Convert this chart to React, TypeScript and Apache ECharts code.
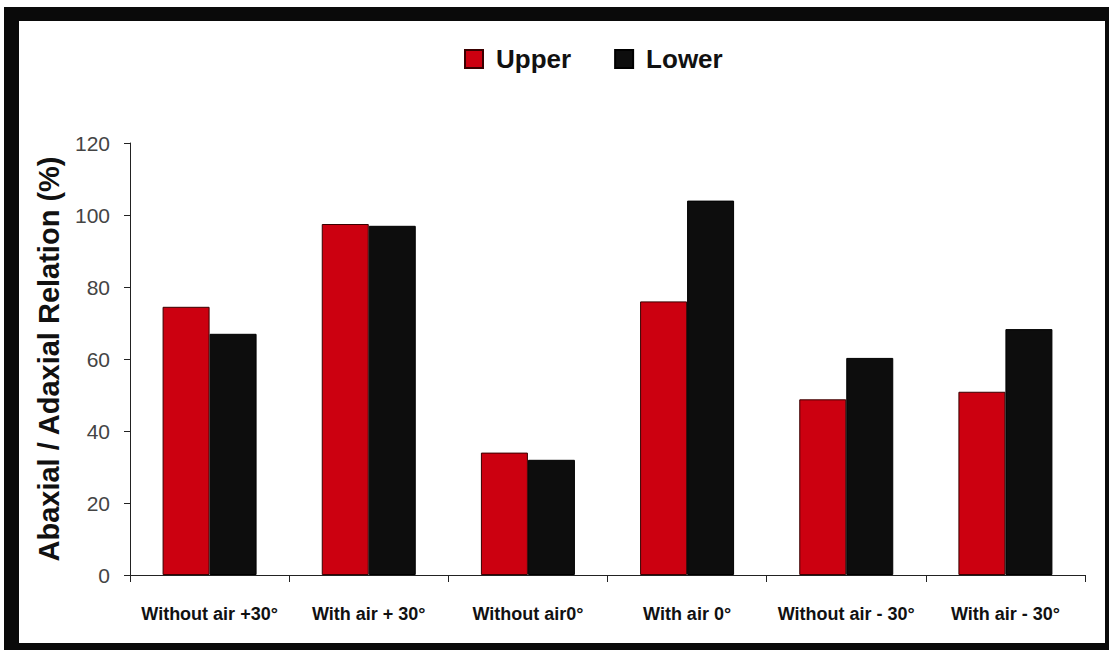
import React, { useEffect, useRef } from "react";
import * as echarts from "echarts";

const categories = [
  "Without air +30°",
  "With air + 30°",
  "Without air0°",
  "With air 0°",
  "Without air - 30°",
  "With air - 30°",
];
const upperValues = [74.5, 97.5, 34, 76, 48.8, 50.9];
const lowerValues = [67, 97, 32, 104, 60.3, 68.3];
const yTicks = { min: 0, max: 120, interval: 20 };

export default function App() {
  const ref = useRef<HTMLDivElement>(null);
  useEffect(() => {
    if (!ref.current) return;
    const chart = echarts.init(ref.current, undefined, { renderer: "svg" });
    chart.setOption({
      animation: false,
      backgroundColor: "#ffffff",
      graphic: [
        {
          type: "rect",
          silent: true,
          z: -10,
          shape: { x: 4, y: 7, width: 1105, height: 643 },
          style: { fill: "#0a0a0a" },
        },
        {
          type: "rect",
          silent: true,
          z: -9,
          shape: { x: 19, y: 21, width: 1086, height: 622 },
          style: { fill: "#ffffff" },
        },
      ],
      legend: {
        left: 464,
        top: 46,
        padding: 0,
        itemWidth: 18,
        itemHeight: 18,
        itemGap: 43,
        icon: "rect",
        textStyle: {
          fontFamily: "Liberation Sans, Arial, sans-serif",
          fontWeight: "bold",
          fontSize: 26,
          color: "#111",
          padding: [0, 0, 0, 8],
        },
        data: ["Upper", "Lower"],
      },
      grid: { left: 130, right: 24, top: 143, bottom: 75 },
      xAxis: {
        type: "category",
        data: categories,
        axisLine: { lineStyle: { color: "#222", width: 1 } },
        axisTick: { show: true, length: 7, lineStyle: { color: "#222" } },
        axisLabel: {
          interval: 0,
          margin: 30,
          fontFamily: "Liberation Sans, Arial, sans-serif",
          fontWeight: "bold",
          fontSize: 18,
          color: "#111",
        },
      },
      yAxis: {
        type: "value",
        min: yTicks.min,
        max: yTicks.max,
        interval: yTicks.interval,
        name: "Abaxial / Adaxial Relation (%)",
        nameLocation: "middle",
        nameGap: 67,
        nameTextStyle: {
          fontFamily: "Liberation Sans, Arial, sans-serif",
          fontWeight: "bold",
          fontSize: 29,
          color: "#111",
        },
        axisLine: { show: true, lineStyle: { color: "#222", width: 1 } },
        axisTick: { show: true, length: 6, lineStyle: { color: "#222" } },
        splitLine: { show: false },
        axisLabel: {
          margin: 20,
          fontFamily: "Liberation Sans, Arial, sans-serif",
          fontSize: 21,
          color: "#444",
        },
      },
      series: [
        {
          name: "Upper",
          type: "bar",
          data: upperValues,
          barWidth: 47,
          barGap: "0%",
          itemStyle: { color: "#cc0010", borderColor: "#3a0000", borderWidth: 1 },
        },
        {
          name: "Lower",
          type: "bar",
          data: lowerValues,
          barWidth: 47,
          barGap: "0%",
          itemStyle: { color: "#0d0d0d", borderColor: "#000", borderWidth: 1 },
        },
      ],
    });
    return () => chart.dispose();
  }, []);
  return (
    <div
      ref={ref}
      style={{ position: "absolute", left: 0, top: 0, width: 1109, height: 650 }}
    />
  );
}
